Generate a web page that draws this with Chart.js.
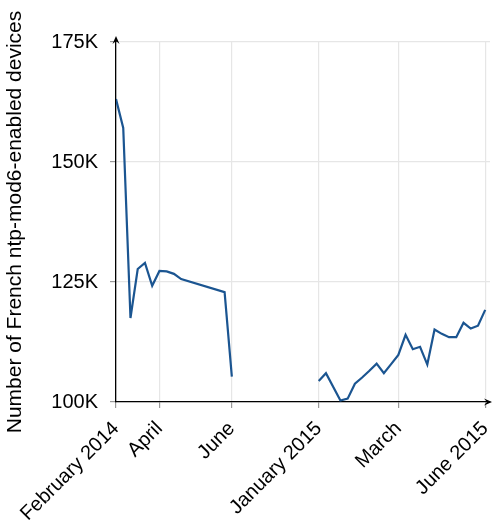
<!DOCTYPE html>
<html>
<head>
<meta charset="utf-8">
<script src="https://cdn.jsdelivr.net/npm/chart.js@4"></script>
<style>
html,body{margin:0;padding:0;background:#fff;}
#wrap{width:493px;height:528px;}
</style>
</head>
<body>
<div id="wrap"><canvas id="c" width="493" height="528"></canvas></div>
<script>
// Week index of each sample (data missing between June 2014 and January 2015)
const weekIndex = [0,1,2,3,4,5,6,7,8,9,15,16,22,28,29,31,32,33,34,35,36,37,38,39,40,41,42,43,44,45,46,47,48,49,50,51];
// Number of devices, in thousands (null = break in the series)
const devicesK = [163.1,157.1,117.5,127.7,129.0,124.2,127.3,127.2,126.7,125.6,122.9,105.3,null,
  104.4,106.0,100.3,100.7,103.8,105.1,106.5,108.0,106.0,107.9,109.8,114.0,111.0,111.5,107.8,
  115.1,114.2,113.5,113.5,116.5,115.3,115.9,119.2];
const xTickPositions = [0,6,16,28,39,51];
const xTickLabels = ["February 2014","April","June","January 2015","March","June 2015"];
const yTickValues = [100,125,150,175];

const FONT = "'Liberation Sans', Arial, sans-serif";

const arrows = {
  id: 'arrows',
  afterDraw(chart){
    const {ctx, chartArea:a} = chart;
    ctx.save();
    ctx.strokeStyle = '#000';
    ctx.fillStyle = '#000';
    ctx.lineWidth = 1.3;
    ctx.beginPath(); ctx.moveTo(a.left, a.top); ctx.lineTo(a.left, a.top - 3); ctx.stroke();
    ctx.beginPath();
    ctx.moveTo(a.left, a.top - 6);
    ctx.lineTo(a.left - 3.5, a.top + 2);
    ctx.lineTo(a.left, a.top - 1);
    ctx.lineTo(a.left + 3.5, a.top + 2);
    ctx.closePath(); ctx.fill();
    ctx.beginPath();
    ctx.moveTo(a.right + 2, a.bottom);
    ctx.lineTo(a.right - 6, a.bottom - 3.5);
    ctx.lineTo(a.right - 3, a.bottom);
    ctx.lineTo(a.right - 6, a.bottom + 3.5);
    ctx.closePath(); ctx.fill();
    ctx.restore();
  }
};

new Chart(document.getElementById('c'), {
  type: 'line',
  data: {
    datasets: [{
      data: weekIndex.map((x,i) => ({x: x, y: devicesK[i]})),
      borderColor: '#1b5591',
      borderWidth: 2.2,
      pointRadius: 0,
      tension: 0,
      spanGaps: false,
      fill: false
    }]
  },
  options: {
    responsive: false,
    animation: false,
    devicePixelRatio: 1,
    layout: {padding: {top: 42, right: 3, bottom: 0, left: 0}},
    plugins: {legend: {display: false}, tooltip: {enabled: false}},
    scales: {
      x: {
        type: 'linear',
        min: 0,
        max: 51.66,
        afterBuildTicks(scale){ scale.ticks = xTickPositions.map(v => ({value: v})); },
        afterFit(scale){ scale.height = 126; scale.paddingLeft = 0; scale.paddingRight = 0; },
        ticks: {
          autoSkip: false,
          minRotation: 45,
          maxRotation: 45,
          padding: 9,
          color: '#000',
          font: {family: FONT, size: 20},
          callback: (v) => { const i = xTickPositions.indexOf(v); return i >= 0 ? xTickLabels[i] : ''; }
        },
        grid: {color: '#e6e6e6', lineWidth: 1.2, tickColor: '#999', tickLength: 6},
        border: {color: '#000', width: 1.3}
      },
      y: {
        type: 'linear',
        min: 100,
        max: 175,
        afterBuildTicks(scale){ scale.ticks = yTickValues.map(v => ({value: v})); },
        afterFit(scale){ scale.width = 116; scale.paddingTop = 0; scale.paddingBottom = 0; },
        ticks: {
          padding: 12,
          color: '#000',
          font: {family: FONT, size: 20},
          callback: (v) => v + 'K'
        },
        title: {
          display: true,
          text: 'Number of French ntp-mod6-enabled devices',
          color: '#000',
          font: {family: FONT, size: 21},
          padding: {top: 3, bottom: 4}
        },
        grid: {color: '#e6e6e6', lineWidth: 1.2, tickColor: '#999', tickLength: 6},
        border: {color: '#000', width: 1.3}
      }
    }
  },
  plugins: [arrows]
});
</script>
</body>
</html>
